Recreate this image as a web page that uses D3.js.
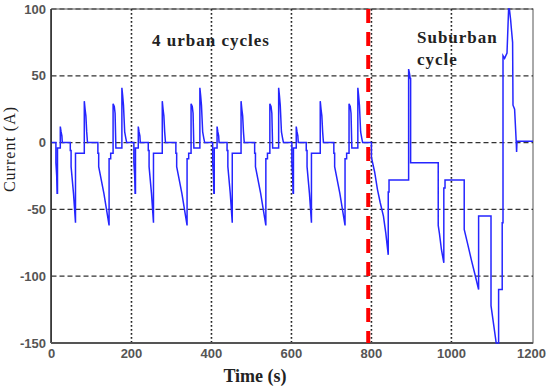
<!DOCTYPE html>
<html>
<head>
<meta charset="utf-8">
<script src="https://cdn.jsdelivr.net/npm/d3@7"></script>
<style>
  body { margin: 0; background: #fff; }
  svg { display: block; }
</style>
</head>
<body>
<svg width="550" height="388"></svg>
<script>
// tick labels
var xTicks = [0, 200, 400, 600, 800, 1000, 1200];
var yTicks = [-150, -100, -50, 0, 50, 100];

// current (A) against time (s), one array per cycle
var urban1 = [[0,0],[11,0],[11,-15],[13,-25],[14,-38],[15,-38],[15,-4],[22,-4],[22,12],[24,8],[26,5],[27,0],
  [47,0],[47,-6],[49,-6],[49,-18],[55,-38],[60,-60],[60,-8],[82,-8],[82,31],[84,25],[86,20],[88,8],[90,0],
  [116,0],[116,-8],[118,-8],[118,-18],[131,-38],[144,-62],[144,-12],[148,-12],[148,-8],[154,-8],[154,29],
  [157,27],[159,22],[161,-4],[176,-4],[176,41],[178,35],[180,28],[183,8],[186,3],[188,0]];
var urban2 = [[195,0],[206,0],[206,-15],[208,-25],[209,-38],[210,-38],[210,-4],[217,-4],[217,12],[219,8],[221,5],[222,0],
  [242,0],[242,-6],[244,-6],[244,-18],[250,-38],[255,-60],[255,-8],[277,-8],[277,31],[279,25],[281,20],[283,8],[285,0],
  [311,0],[311,-8],[313,-8],[313,-18],[326,-38],[339,-62],[339,-12],[343,-12],[343,-8],[349,-8],[349,29],
  [352,27],[354,22],[356,-4],[371,-4],[371,41],[373,35],[375,28],[378,8],[381,3],[383,0]];
var urban3 = [[392,0],[403,0],[403,-15],[405,-25],[406,-38],[407,-38],[407,-4],[414,-4],[414,12],[416,8],[418,5],[419,0],
  [439,0],[439,-6],[441,-6],[441,-18],[447,-38],[452,-60],[452,-8],[474,-8],[474,31],[476,25],[478,20],[480,8],[482,0],
  [508,0],[508,-8],[510,-8],[510,-18],[523,-38],[536,-62],[536,-12],[540,-12],[540,-8],[546,-8],[546,29],
  [549,27],[551,22],[553,-4],[568,-4],[568,41],[570,35],[572,28],[575,8],[578,3],[580,0]];
var urban4 = [[590,0],[601,0],[601,-15],[603,-25],[604,-38],[605,-38],[605,-4],[612,-4],[612,12],[614,8],[616,5],[617,0],
  [637,0],[637,-6],[639,-6],[639,-18],[645,-38],[650,-60],[650,-8],[672,-8],[672,31],[674,25],[676,20],[678,8],[680,0],
  [706,0],[706,-8],[708,-8],[708,-18],[721,-38],[734,-62],[734,-12],[738,-12],[738,-8],[744,-8],[744,29],
  [747,27],[749,22],[751,-4],[766,-4],[766,41],[768,35],[770,28],[773,8],[776,3],[778,0]];
var suburban = [[800,0],[800,-11],[808,-22],[815,-35],[822,-45],[830,-55],[836,-68],[842,-84],[842,-37],[844,-37],[844,-28],
  [893,-28],[893,55],[895,52],[897,48],[898,48],[898,-15],
  [967,-15],[967,-62],[970,-68],[975,-80],[981,-90],[981,-34],[984,-34],[984,-28],
  [1032,-28],[1032,-65],[1040,-75],[1050,-88],[1060,-100],[1068,-110],[1068,-55],
  [1099,-55],[1099,-122],[1105,-135],[1112,-150],[1118,-150],[1118,-110],[1127,-110],[1127,-60],[1129,-60],[1129,65],
  [1133,63],[1139,67],[1143,100],[1145,100],[1148,92],[1150,85],[1153,75],[1154,28],[1158,25],[1162,1],[1163,-7],[1164,1],[1204,1]];

// where the suburban cycle begins
var splitTime = 792;

var svg = d3.select("svg");

var x = d3.scaleLinear().domain([0, 1204]).range([51.5, 533]);
var y = d3.scaleLinear().domain([-150, 100]).range([343, 9]);

// frame
svg.append("rect")
  .attr("x", x(0)).attr("y", y(100))
  .attr("width", x(1204) - x(0)).attr("height", y(-150) - y(100))
  .attr("fill", "none").attr("stroke", "#555").attr("stroke-width", 1);

// horizontal grid, dashed
svg.selectAll(".hgrid").data(yTicks.filter(function(d) { return d > -150; }))
  .enter().append("line")
  .attr("x1", x(0)).attr("x2", x(1204))
  .attr("y1", function(d) { return y(d); }).attr("y2", function(d) { return y(d); })
  .attr("stroke", "#333").attr("stroke-width", 1.2).attr("stroke-dasharray", "5,3");

// vertical grid, dotted
svg.selectAll(".vgrid").data(xTicks.filter(function(d) { return d > 0 && d < 1200; }))
  .enter().append("line")
  .attr("x1", function(d) { return x(d); }).attr("x2", function(d) { return x(d); })
  .attr("y1", y(100)).attr("y2", y(-150))
  .attr("stroke", "#222").attr("stroke-width", 1.6).attr("stroke-dasharray", "1.8,2.2");

// left and bottom axis lines
svg.append("line").attr("x1", x(0) - 0.5).attr("x2", x(0) - 0.5).attr("y1", y(100)).attr("y2", y(-150))
  .attr("stroke", "#333").attr("stroke-width", 1.6);
svg.append("line").attr("x1", x(0) - 0.5).attr("x2", x(1204)).attr("y1", y(-150)).attr("y2", y(-150))
  .attr("stroke", "#555").attr("stroke-width", 1.8);

// tick labels
svg.selectAll(".ylab").data(yTicks).enter().append("text")
  .attr("x", 46).attr("y", function(d) { return y(d) + 4.5; })
  .attr("text-anchor", "end")
  .style("font-family", "'Liberation Sans', Arial, sans-serif")
  .style("font-size", "13px").style("font-weight", "bold").style("fill", "#555")
  .text(function(d) { return d; });

svg.selectAll(".xlab").data(xTicks).enter().append("text")
  .attr("x", function(d) { return x(d); }).attr("y", 358)
  .attr("text-anchor", "middle")
  .style("font-family", "'Liberation Sans', Arial, sans-serif")
  .style("font-size", "13px").style("font-weight", "bold").style("fill", "#555")
  .text(function(d) { return d; });

// clip for the data
svg.append("clipPath").attr("id", "plot")
  .append("rect").attr("x", x(0)).attr("y", y(100) - 1)
  .attr("width", x(1204) - x(0)).attr("height", y(-150) - y(100) + 2);

var line = d3.line()
  .x(function(d) { return x(d[0]); })
  .y(function(d) { return y(d[1]); });

var series = urban1.concat(urban2, urban3, urban4, suburban);

svg.append("path")
  .datum(series)
  .attr("clip-path", "url(#plot)")
  .attr("d", line)
  .attr("fill", "none")
  .attr("stroke", "#2525ff")
  .attr("stroke-width", 1.5)
  .attr("stroke-linejoin", "miter");

// red dashed split
svg.append("line")
  .attr("x1", x(splitTime)).attr("x2", x(splitTime))
  .attr("y1", y(100)).attr("y2", y(-150))
  .attr("stroke", "#ff0000").attr("stroke-width", 4)
  .attr("stroke-dasharray", "14,9");

// annotations
var serif = "'Liberation Serif', 'Times New Roman', serif";
svg.append("text").attr("x", 152).attr("y", 46)
  .style("font-family", serif).style("font-size", "17px").style("font-weight", "bold")
  .style("letter-spacing", "1px").style("fill", "#222")
  .text("4 urban cycles");
svg.append("text").attr("x", 417).attr("y", 43)
  .style("font-family", serif).style("font-size", "17px").style("font-weight", "bold")
  .style("letter-spacing", "1px").style("fill", "#222")
  .text("Suburban");
svg.append("text").attr("x", 417).attr("y", 65)
  .style("font-family", serif).style("font-size", "17px").style("font-weight", "bold")
  .style("letter-spacing", "1px").style("fill", "#222")
  .text("cycle");

// axis titles
svg.append("text").attr("x", 255).attr("y", 382)
  .attr("text-anchor", "middle")
  .style("font-family", serif).style("font-size", "18px").style("font-weight", "bold")
  .style("fill", "#222")
  .text("Time (s)");
svg.append("text")
  .attr("transform", "translate(15,149) rotate(-90)")
  .attr("text-anchor", "middle")
  .style("font-family", serif).style("font-size", "16px")
  .style("letter-spacing", "1px").style("fill", "#222")
  .text("Current (A)");
</script>
</body>
</html>
